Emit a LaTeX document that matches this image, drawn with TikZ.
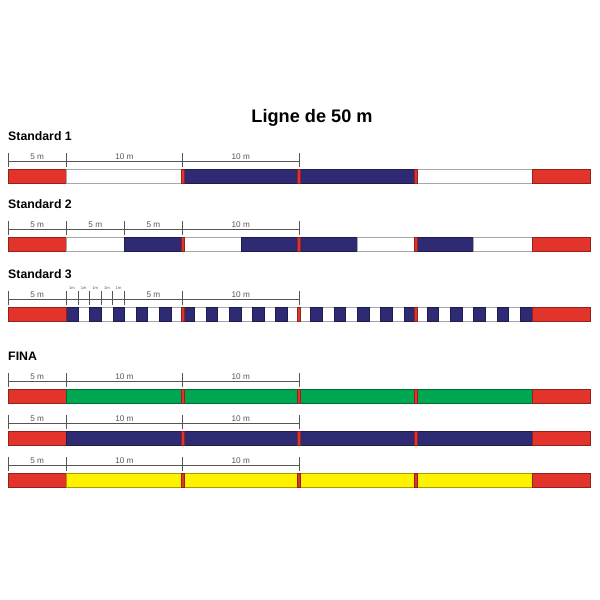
\documentclass[tikz,border=0pt]{standalone}
\usepackage{fontspec}
\setmainfont{Liberation Sans}
\usetikzlibrary{positioning}

\definecolor{lnred}{HTML}{E3342B}
\definecolor{lnblue}{HTML}{2E2B74}
\definecolor{lngreen}{HTML}{00A651}
\definecolor{lnyellow}{HTML}{FFF200}
\definecolor{dimgray}{HTML}{555555}

\tikzset{
  title/.style={font=\fontsize{15.5}{18}\selectfont\bfseries},
  rowname/.style={font=\fontsize{10.5}{12}\selectfont\bfseries, anchor=west, inner sep=0pt},
  dimlabel/.style={font=\fontsize{7}{8}\selectfont, text=dimgray, inner sep=0pt},
  tinylabel/.style={font=\fontsize{3.5}{4}\selectfont, text=dimgray, inner sep=0pt},
  dimline/.style={draw=dimgray, line width=0.5pt},
  seg/.style={draw=#1!65!black, fill=#1, line width=0.4pt},
}

% bar of a lane: #1 top y, #2 segments from/to/colour
\newcommand\piste[2]{%
  \foreach \a/\b/\c in {#2}
    \draw[seg=\c] ({8+11.64*\a},#1) rectangle ({8+11.64*\b},#1+14);
  \foreach \k in {15,25,35}
    \draw[seg=lnred] ({8+11.64*\k-1.6},#1) rectangle ({8+11.64*\k+1.6},#1+14);
}
% dimension line: #1 line y, #2 ticks, #3 labels pos/text
\newcommand\cotes[3]{%
  \draw[dimline] (8,#1) -- ({8+11.64*25},#1);
  \foreach \t in {#2}
    \draw[dimline] ({8+11.64*\t},#1-8) -- ({8+11.64*\t},#1+6);
  \foreach \p/\t in {#3}
    \node[dimlabel] at ({8+11.64*\p},#1-4.5) {\t};
}

\begin{document}
\begin{tikzpicture}[x=0.03cm,y=-0.03cm]
\useasboundingbox (0,0) rectangle (600,600);

\node[title] (titre) at (312,118) {Ligne de 50 m};

% Standard 1
\node[rowname] (std1) at (8,136) {Standard 1};
\cotes{161}{0,5,15,25}{2.5/5 m,10/10 m,20/10 m}
\piste{169}{0/5/lnred,5/15/white,15/35/lnblue,35/45/white,45/50/lnred}

% Standard 2
\node[rowname] (std2) at (8,204) {Standard 2};
\cotes{229}{0,5,10,15,25}{2.5/5 m,7.5/5 m,12.5/5 m,20/10 m}
\piste{237}{0/5/lnred,5/10/white,10/15/lnblue,15/20/white,20/30/lnblue,30/35/white,35/40/lnblue,40/45/white,45/50/lnred}

% Standard 3
\node[rowname] (std3) at (8,274) {Standard 3};
\cotes{299}{0,5,6,7,8,9,10,15,25}{2.5/5 m,12.5/5 m,20/10 m}
\foreach \p in {5.5,6.5,...,9.5}
  \node[tinylabel] at ({8+11.64*\p},288) {1m};
\draw[seg=white] (8,307) rectangle ({8+11.64*50},321);
\foreach \a in {5,7,...,23,26,28,...,44}
  \draw[seg=lnblue] ({8+11.64*\a},307) rectangle ({8+11.64*(\a+1)},321);
\draw[seg=lnred] (8,307) rectangle ({8+11.64*5},321);
\draw[seg=lnred] ({8+11.64*45},307) rectangle ({8+11.64*50},321);
\foreach \k in {15,25,35}
  \draw[seg=lnred] ({8+11.64*\k-1.6},307) rectangle ({8+11.64*\k+1.6},321);

% FINA
\node[rowname] (fina) at (8,356) {FINA};
\cotes{381}{0,5,15,25}{2.5/5 m,10/10 m,20/10 m}
\piste{389}{0/5/lnred,5/45/lngreen,45/50/lnred}
\cotes{423}{0,5,15,25}{2.5/5 m,10/10 m,20/10 m}
\piste{431}{0/5/lnred,5/45/lnblue,45/50/lnred}
\cotes{465}{0,5,15,25}{2.5/5 m,10/10 m,20/10 m}
\piste{473}{0/5/lnred,5/45/lnyellow,45/50/lnred}
\end{tikzpicture}
\end{document}
